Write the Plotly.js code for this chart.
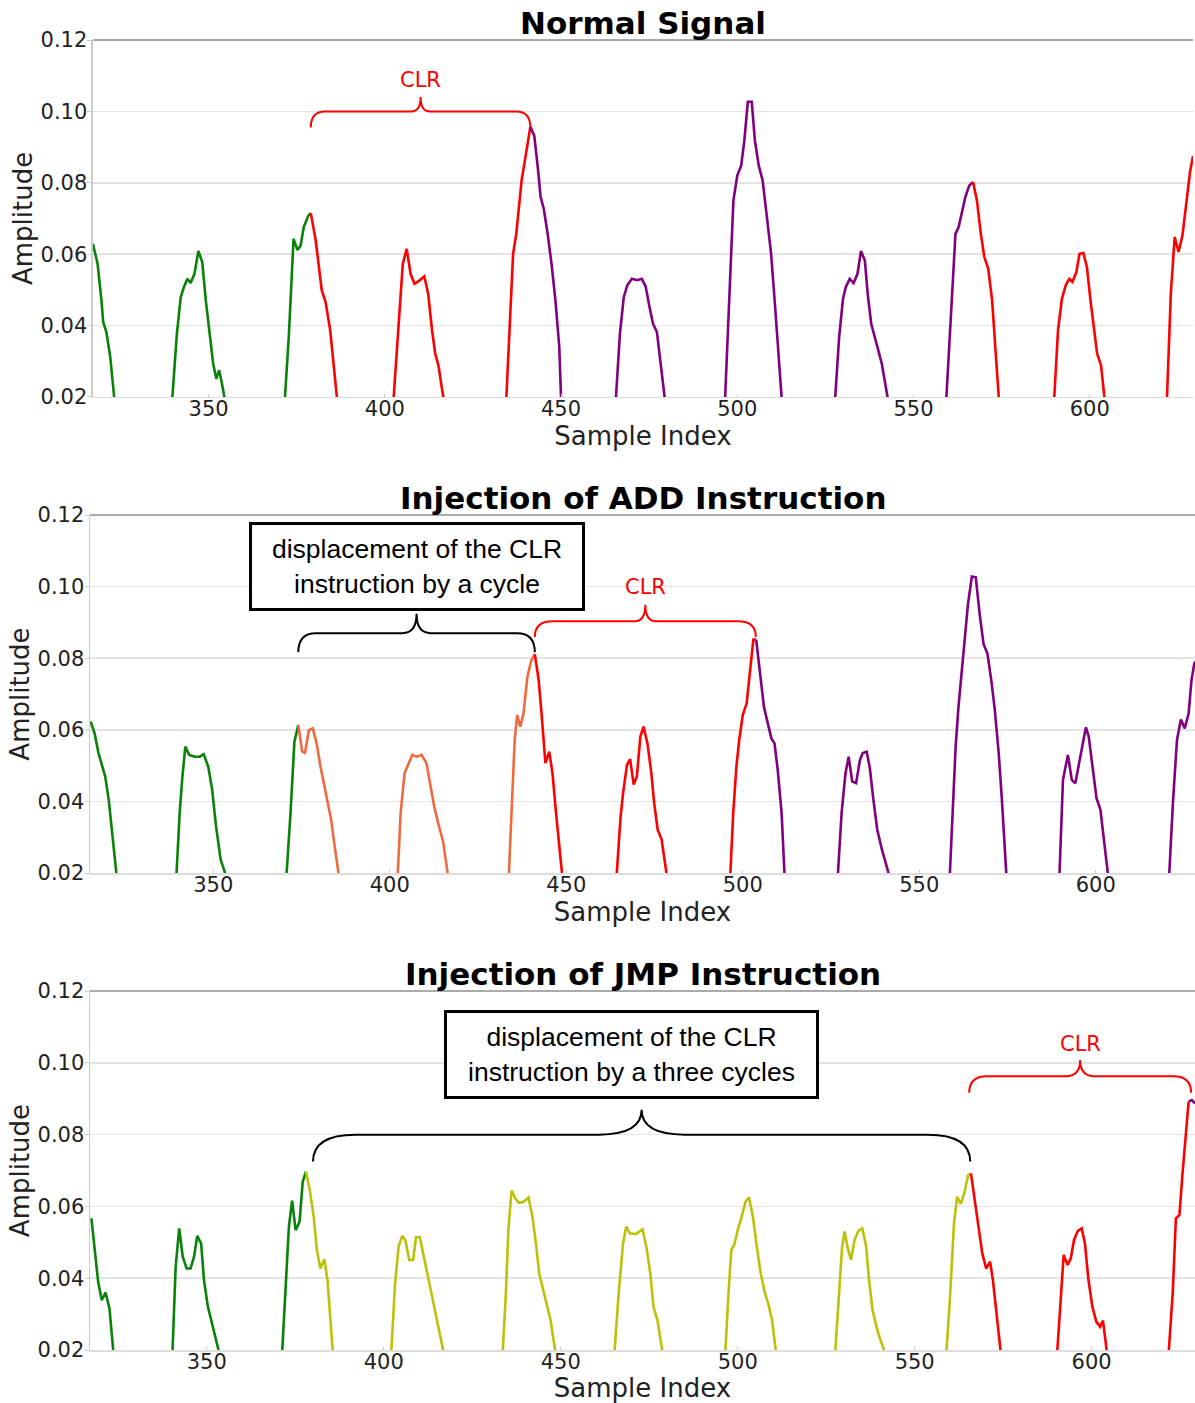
<!DOCTYPE html>
<html><head><meta charset="utf-8">
<script src="https://cdn.plot.ly/plotly-3.0.1.min.js"></script>
<style>html,body{margin:0;padding:0;background:#fff}#chart{width:1195px;height:1403px}</style>
</head><body><div id="chart"></div>
<script>
// ---------------- DATA ----------------
var plotTitles = ['Normal Signal', 'Injection of ADD Instruction', 'Injection of JMP Instruction'];
var xTickVals = [350, 400, 450, 500, 550, 600];
var yTickVals = [0.02, 0.04, 0.06, 0.08, 0.10, 0.12];

// Normal signal
var normalX = [317.2,318.5,319.6,320.1,321.0,322.1,323.8,
  339.3,341.0,342.1,343.0,344.0,344.9,346.0,347.1,348.2,349.2,350.3,351.3,352.2,353.0,353.8,355.2,
  371.3,372.8,374.1,375.2,376.1,377.0,378.3,379.0,380.4,382.1,383.2,384.5,385.3,387.0,
  402.1,403.8,405.1,406.2,407.3,408.4,409.8,411.2,412.3,413.4,414.3,415.2,417.5,
  434.2,435.3,436.4,437.3,438.8,440.2,441.3,442.4,443.5,444.2,445.1,446.2,447.3,448.4,449.5,450.2,
  465.2,466.7,467.8,468.8,470.1,471.6,472.9,474.0,475.1,476.1,477.2,478.3,480.1,
  496.3,497.4,498.2,498.9,500.0,501.1,502.0,503.0,504.1,505.0,506.1,507.2,508.3,509.6,510.6,511.7,513.0,
  527.4,528.9,530.0,530.8,531.9,533.0,534.1,535.1,536.2,537.0,538.0,539.1,540.0,541.0,541.9,543.5,
  559.0,560.4,561.1,561.9,562.8,563.6,564.7,565.8,566.9,568.0,569.1,570.1,571.2,572.3,573.4,574.6,
  589.6,591.0,592.1,593.2,594.2,595.1,596.2,597.1,598.2,599.2,600.2,601.0,602.1,603.2,604.8,
  621.7,623.0,624.1,625.2,626.3,627.4,628.5,629.3];
var normalY = [0.0629,0.0573,0.0471,0.0410,0.0382,0.0312,0.014,
  0.014,0.0377,0.0480,0.0508,0.0531,0.0519,0.0545,0.0609,0.0578,0.0471,0.0368,0.0293,0.0251,0.0275,0.0237,0.016,
  0.014,0.0377,0.0643,0.0612,0.0624,0.0676,0.0708,0.0715,0.0638,0.0499,0.0466,0.0387,0.0312,0.014,
  0.014,0.0377,0.0573,0.0615,0.0545,0.0517,0.0526,0.0538,0.0489,0.0387,0.0321,0.0289,0.014,
  0.014,0.0377,0.0601,0.0657,0.0806,0.0890,0.0957,0.0932,0.0834,0.0760,0.0727,0.0657,0.0573,0.0471,0.0340,0.014,
  0.014,0.0377,0.0480,0.0513,0.0531,0.0527,0.0531,0.0510,0.0452,0.0405,0.0382,0.0293,0.014,
  0.014,0.0415,0.0620,0.0750,0.0820,0.0848,0.0918,0.1027,0.1027,0.0918,0.0848,0.0806,0.0713,0.0601,0.0471,0.0321,0.014,
  0.014,0.0368,0.0475,0.0508,0.0531,0.0519,0.0545,0.0609,0.0582,0.0489,0.0405,0.0368,0.0331,0.0293,0.0237,0.015,
  0.014,0.0405,0.0545,0.0657,0.0676,0.0713,0.0760,0.0792,0.0802,0.0750,0.0657,0.0592,0.0559,0.0471,0.0312,0.014,
  0.014,0.0387,0.0475,0.0513,0.0531,0.0522,0.0550,0.0601,0.0603,0.0564,0.0471,0.0401,0.0321,0.0289,0.014,
  0.014,0.0489,0.0648,0.0606,0.0652,0.0750,0.0834,0.0875];
var normalBreaks = [379.0, 441.3, 566.9];

// ADD injection
var addX = [315.3,316.4,317.5,318.5,319.4,320.4,321.3,323.2,
  339.3,340.5,341.2,342.1,343.2,344.8,346.2,347.3,348.6,349.7,350.8,352.1,354.2,
  370.4,371.9,373.0,374.1,375.2,376.0,377.1,378.2,379.3,380.4,381.5,382.5,383.4,384.4,386.2,
  402.0,403.1,404.2,405.3,406.4,407.7,409.0,410.4,411.5,412.6,413.7,415.1,417.2,
  433.5,434.5,435.4,436.1,437.0,437.9,439.0,440.1,441.1,442.2,443.0,444.1,445.2,446.1,447.1,448.0,449.4,
  463.9,465.4,466.1,467.2,468.1,469.1,470.0,471.0,471.9,473.0,474.1,474.9,475.9,477.0,479.2,
  496.2,497.3,498.2,499.0,500.0,501.1,502.0,503.0,503.8,504.9,506.0,507.1,508.1,509.0,509.9,511.0,512.1,
  526.6,528.0,529.1,530.0,531.0,532.1,533.2,534.0,535.1,536.0,537.0,538.1,539.4,540.5,542.0,
  558.4,559.5,560.3,561.1,562.0,562.9,563.8,564.9,566.0,567.1,568.2,569.3,570.4,571.4,572.5,573.4,575.0,
  589.5,590.7,592.1,593.2,594.2,595.3,596.4,597.2,598.0,599.1,600.2,601.3,602.4,604.0,
  620.5,621.9,623.0,624.1,625.2,626.3,627.1,627.9,628.3];
var addY = [0.0623,0.0590,0.0535,0.0497,0.0470,0.0405,0.0312,0.014,
  0.014,0.0368,0.0460,0.0553,0.0530,0.0525,0.0525,0.0532,0.0497,0.0433,0.0331,0.0238,0.0175,
  0.014,0.0368,0.0567,0.0613,0.0539,0.0536,0.0599,0.0604,0.0562,0.0497,0.0442,0.0396,0.0349,0.0275,0.015,
  0.014,0.0368,0.0479,0.0507,0.0530,0.0525,0.0530,0.0507,0.0442,0.0386,0.0340,0.0289,0.0145,
  0.014,0.0368,0.0572,0.0641,0.0609,0.0646,0.0748,0.0794,0.0811,0.0738,0.0646,0.0507,0.0539,0.0479,0.0368,0.0275,0.014,
  0.014,0.0358,0.0423,0.0502,0.0518,0.0447,0.0470,0.0581,0.0609,0.0562,0.0479,0.0396,0.0321,0.0294,0.0145,
  0.014,0.0368,0.0497,0.0572,0.0641,0.0674,0.0757,0.0852,0.0852,0.0748,0.0664,0.0618,0.0576,0.0562,0.0488,0.0368,0.014,
  0.014,0.0368,0.0479,0.0525,0.0456,0.0451,0.0516,0.0535,0.0539,0.0493,0.0405,0.0321,0.0266,0.0224,0.0175,
  0.014,0.0368,0.0553,0.0664,0.0766,0.0859,0.0952,0.1028,0.1026,0.0924,0.0840,0.0813,0.0738,0.0655,0.0535,0.0405,0.014,
  0.014,0.0460,0.0530,0.0460,0.0451,0.0507,0.0562,0.0607,0.0581,0.0497,0.0409,0.0377,0.0294,0.015,
  0.014,0.0405,0.0572,0.0629,0.0604,0.0646,0.0738,0.0785,0.0790];
var addBreaks = [374.1, 441.1, 503.8];

// JMP injection
var jmpX = [317.4,318.2,319.3,320.3,321.4,322.5,324.1,
  340.1,341.2,342.2,343.2,344.3,345.4,346.4,347.3,348.4,349.2,350.3,351.4,352.4,354.3,
  371.0,372.3,373.2,374.1,375.1,376.2,377.1,378.0,379.1,380.2,381.1,382.1,383.2,384.1,384.7,386.0,
  401.8,403.2,404.2,405.2,406.1,407.2,408.3,409.1,410.2,411.3,412.4,413.4,414.7,415.6,417.6,
  433.3,434.5,435.2,436.1,437.2,438.2,439.5,440.9,442.0,443.0,443.9,445.0,446.0,447.1,449.1,
  464.8,466.3,467.6,468.5,469.5,471.2,472.2,473.1,474.2,475.3,476.2,477.3,479.4,
  496.2,497.4,498.2,499.0,500.0,501.1,502.2,503.2,504.3,505.4,506.5,507.6,508.6,509.7,511.3,
  527.2,528.7,529.5,530.2,531.1,532.0,533.0,534.1,535.2,536.3,537.1,538.1,539.2,540.3,542.5,
  558.6,560.0,561.1,562.0,563.0,564.0,565.1,565.9,567.0,568.0,569.1,570.2,571.3,572.1,573.2,574.9,
  589.9,591.4,592.1,593.2,594.1,595.0,596.1,597.2,598.1,599.1,600.2,601.3,602.4,603.2,604.8,
  621.4,622.9,623.8,624.8,625.6,626.7,627.4,628.3,629.2];
var jmpY = [0.0567,0.0488,0.0390,0.0339,0.0360,0.0316,0.014,
  0.014,0.0432,0.0539,0.0460,0.0427,0.0427,0.0460,0.0518,0.0497,0.0395,0.0321,0.0274,0.0237,0.016,
  0.014,0.0376,0.0544,0.0616,0.0534,0.0557,0.0669,0.0697,0.0646,0.0571,0.0479,0.0427,0.0453,0.0395,0.0311,0.014,
  0.014,0.0386,0.0488,0.0518,0.0506,0.0451,0.0451,0.0514,0.0514,0.0460,0.0409,0.0358,0.0293,0.0256,0.016,
  0.014,0.0358,0.0534,0.0644,0.0622,0.0610,0.0613,0.0625,0.0571,0.0497,0.0414,0.0367,0.0330,0.0284,0.0155,
  0.014,0.0349,0.0497,0.0544,0.0525,0.0523,0.0530,0.0536,0.0488,0.0414,0.0321,0.0284,0.0155,
  0.014,0.0358,0.0479,0.0492,0.0534,0.0571,0.0613,0.0625,0.0571,0.0488,0.0414,0.0362,0.0330,0.0284,0.0155,
  0.014,0.0376,0.0488,0.0530,0.0483,0.0451,0.0506,0.0532,0.0539,0.0488,0.0395,0.0311,0.0265,0.0228,0.017,
  0.014,0.0349,0.0553,0.0627,0.0607,0.0636,0.0687,0.0692,0.0618,0.0553,0.0469,0.0427,0.0446,0.0395,0.0302,0.014,
  0.014,0.0376,0.0465,0.0437,0.0455,0.0506,0.0532,0.0539,0.0497,0.0395,0.0321,0.0279,0.0265,0.0282,0.0155,
  0.014,0.0358,0.0567,0.0576,0.0683,0.0822,0.0892,0.0896,0.0887];
var jmpBreaks = [378.0, 565.9, 627.4];

// Brace annotations: [x start, x end, tip y, line y, cusp y]
var normalClrBrace = [379.0, 441.3, 0.0955, 0.1000, 0.1040];
var addShiftBrace  = [374.1, 441.1, 0.0817, 0.0870, 0.0924];
var addClrBrace    = [441.1, 503.7, 0.0859, 0.0903, 0.0949];
var jmpShiftBrace  = [380.0, 565.7, 0.0725, 0.0800, 0.0869];
var jmpClrBrace    = [565.4, 628.1, 0.0917, 0.0963, 0.1008];
var clrLabel = 'CLR';
var addBoxText = 'displacement of the CLR<br>instruction by a cycle';
var jmpBoxText = 'displacement of the CLR<br>instruction by a three cycles';

// ---------------- STYLE ----------------
var C = {green:'#0a820a', red:'#ff0000', purple:'#800080', coral:'#ef6a3f', olive:'#bcc10a'};
var normalColors = [C.green, C.red, C.purple, C.red];
var addColors = [C.green, C.coral, C.red, C.purple];
var jmpColors = [C.green, C.olive, C.red, C.purple];

function segs(xs, ys, breaks, colors, ax) {
  var out = [];
  for (var i = 0; i <= breaks.length; i++) {
    var lo = i === 0 ? -Infinity : breaks[i-1];
    var hi = i === breaks.length ? Infinity : breaks[i];
    var sx = [], sy = [];
    for (var k = 0; k < xs.length; k++) {
      if (xs[k] >= lo && xs[k] <= hi) { sx.push(xs[k]); sy.push(ys[k]); }
    }
    out.push({x: sx, y: sy, type: 'scatter', mode: 'lines', xaxis: 'x' + ax, yaxis: 'y' + ax,
      line: {color: colors[i], width: 2.6}, hoverinfo: 'skip', showlegend: false});
  }
  return out;
}

var traces = [].concat(
  segs(normalX, normalY, normalBreaks, normalColors, ''),
  segs(addX, addY, addBreaks, addColors, '2'),
  segs(jmpX, jmpY, jmpBreaks, jmpColors, '3'));

function bracePath(b, r, c) {
  var x0 = b[0], x1 = b[1], yt = b[2], yl = b[3], yc = b[4], xm = (x0 + x1) / 2;
  return 'M' + x0 + ',' + yt + ' Q' + x0 + ',' + yl + ' ' + (x0 + r) + ',' + yl +
    ' L' + (xm - c) + ',' + yl + ' Q' + xm + ',' + yl + ' ' + xm + ',' + yc +
    ' Q' + xm + ',' + yl + ' ' + (xm + c) + ',' + yl +
    ' L' + (x1 - r) + ',' + yl + ' Q' + x1 + ',' + yl + ' ' + x1 + ',' + yt;
}
function braceShape(b, ax, color, r, c) {
  return {type: 'path', xref: 'x' + ax, yref: 'y' + ax, path: bracePath(b, r, c),
    line: {color: color, width: 2}, layer: 'above'};
}
function topSpine(ax) {
  return {type: 'line', xref: 'x' + ax + ' domain', yref: 'y' + ax + ' domain', x0: 0, x1: 1, y0: 1, y1: 1,
    line: {color: '#aaaaaa', width: 2}, layer: 'above'};
}

var tickFont = {family: 'DejaVu Sans', size: 21, color: '#222'};
var axTitleFont = {family: 'DejaVu Sans', size: 26, color: '#222'};

function xax(range, domain) {
  return {range: range, domain: domain, tickvals: xTickVals, tickfont: tickFont,
    showgrid: false, zeroline: false, showline: true, linecolor: '#dddddd', linewidth: 1.5,
    ticks: 'inside', ticklen: 3, tickcolor: '#cccccc', ticklabelstandoff: -8,
    title: {text: 'Sample Index', font: axTitleFont, standoff: 0}};
}
function yax(domain, anchor) {
  return {range: [0.02, 0.12], domain: domain, anchor: anchor, tickvals: yTickVals, tickformat: '.2f',
    tickfont: tickFont, showgrid: true, gridcolor: '#e4e4e4', gridwidth: 1.5, zeroline: false,
    showline: true, linecolor: '#cccccc', linewidth: 1.5, ticks: 'outside', ticklen: 4, tickcolor: '#cccccc',
    ticklabelstandoff: -4,
    title: {text: 'Amplitude', font: axTitleFont, standoff: 0}};
}

var d1 = [0.7275, 1], d2 = [0.3641, 0.6374], d3 = [0, 0.2740];

var titleFont = {family: 'DejaVu Sans', size: 31, color: '#000', weight: 'bold'};
var clrFont = {family: 'DejaVu Sans', size: 21, color: C.red};
var boxFont = {family: 'Liberation Sans, Arial', size: 26.5, color: '#000'};

var layout = {
  width: 1195, height: 1403,
  margin: {l: 90, r: 0, t: 40, b: 53},
  paper_bgcolor: '#fff', plot_bgcolor: '#fff',
  showlegend: false,
  xaxis: Object.assign(xax([317.2, 629.3], [0.0027, 0.9982]), {anchor: 'y'}),
  yaxis: yax(d1, 'x'),
  xaxis2: Object.assign(xax([315.1, 628.1], [0, 1]), {anchor: 'y2'}),
  yaxis2: yax(d2, 'x2'),
  xaxis3: Object.assign(xax([317.0, 629.2], [0, 1]), {anchor: 'y3'}),
  yaxis3: yax(d3, 'x3'),
  shapes: [
    topSpine(''), topSpine('2'), topSpine('3'),
    braceShape(normalClrBrace, '', C.red, 4, 2.5),
    braceShape(addShiftBrace, '2', '#000', 5, 4),
    braceShape(addClrBrace, '2', C.red, 5, 3),
    braceShape(jmpShiftBrace, '3', '#000', 12, 12),
    braceShape(jmpClrBrace, '3', C.red, 5, 4)
  ],
  annotations: [
    {text: '<b>' + plotTitles[0] + '</b>', xref: 'paper', yref: 'paper', x: 0.5, y: d1[1], xanchor: 'center', yanchor: 'bottom', showarrow: false, font: titleFont, yshift: -3},
    {text: '<b>' + plotTitles[1] + '</b>', xref: 'paper', yref: 'paper', x: 0.5, y: d2[1], xanchor: 'center', yanchor: 'bottom', showarrow: false, font: titleFont, yshift: -3},
    {text: '<b>' + plotTitles[2] + '</b>', xref: 'paper', yref: 'paper', x: 0.5, y: d3[1], xanchor: 'center', yanchor: 'bottom', showarrow: false, font: titleFont, yshift: -3},
    {text: clrLabel, xref: 'x', yref: 'y', x: (normalClrBrace[0] + normalClrBrace[1]) / 2, y: 0.1088, showarrow: false, font: clrFont},
    {text: clrLabel, xref: 'x2', yref: 'y2', x: (addClrBrace[0] + addClrBrace[1]) / 2, y: 0.0998, showarrow: false, font: clrFont},
    {text: clrLabel, xref: 'x3', yref: 'y3', x: (jmpClrBrace[0] + jmpClrBrace[1]) / 2, y: 0.1052, showarrow: false, font: clrFont},
    {text: addBoxText, xref: 'x2', yref: 'y2', x: 407.8, y: 0.1056, showarrow: false, font: boxFont,
      bordercolor: '#000', borderwidth: 3, bgcolor: '#fff', borderpad: 0, width: 330, height: 83, align: 'center'},
    {text: jmpBoxText, xref: 'x3', yref: 'y3', x: 469.85, y: 0.1024, showarrow: false, font: boxFont,
      bordercolor: '#000', borderwidth: 3, bgcolor: '#fff', borderpad: 0, width: 369, height: 83, align: 'center'}
  ]
};

Plotly.newPlot('chart', traces, layout, {staticPlot: true, displayModeBar: false});
</script></body></html>
